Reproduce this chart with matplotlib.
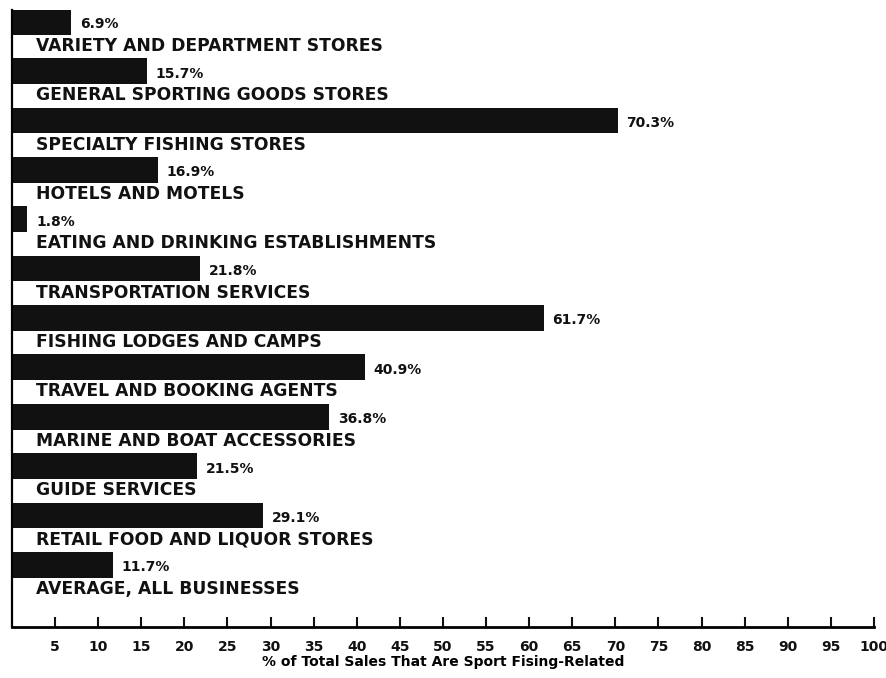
import matplotlib
matplotlib.use("Agg")
import matplotlib.pyplot as plt
import numpy as np

# data (top to bottom)
categories = [
    "VARIETY AND DEPARTMENT STORES",
    "GENERAL SPORTING GOODS STORES",
    "SPECIALTY FISHING STORES",
    "HOTELS AND MOTELS",
    "EATING AND DRINKING ESTABLISHMENTS",
    "TRANSPORTATION SERVICES",
    "FISHING LODGES AND CAMPS",
    "TRAVEL AND BOOKING AGENTS",
    "MARINE AND BOAT ACCESSORIES",
    "GUIDE SERVICES",
    "RETAIL FOOD AND LIQUOR STORES",
    "AVERAGE, ALL BUSINESSES",
]
values = [6.9, 15.7, 70.3, 16.9, 1.8, 21.8, 61.7, 40.9, 36.8, 21.5, 29.1, 11.7]
tick_values = list(range(5, 101, 5))
x_label = "% of Total Sales That Are Sport Fising-Related"

plt.rcParams['font.family'] = ['DejaVu Sans']

fig = plt.figure(figsize=(8.87, 6.78), dpi=100)
ax = fig.add_axes([0.0135, 0.0752, 0.9718, 0.9098])

y = np.arange(len(values))
ax.barh(y, values, height=0.52, color='#111111', align='center')

for i, (cat, v) in enumerate(zip(categories, values)):
    ax.text(v + 1.0, i + 0.05, f"{v}%", ha='left', va='center',
            fontsize=10, fontweight='bold', color='#111111')
    ax.text(2.8, i + 0.49, cat, ha='left', va='center',
            fontsize=12.3, fontweight='bold', color='#111111')

ax.set_xlim(0, 100)
ax.set_ylim(12.26, -0.233)

ax.set_xticks(tick_values)
ax.set_xticklabels([str(t) for t in tick_values], fontsize=10, fontweight='bold')
ax.tick_params(axis='x', direction='in', length=7, width=1.5, pad=9, colors='#111111')
ax.set_yticks([])

for side in ['top', 'right']:
    ax.spines[side].set_visible(False)
ax.spines['left'].set_linewidth(1.6)
ax.spines['bottom'].set_linewidth(2.0)

ax.set_xlabel(x_label, fontsize=10, fontweight='bold', labelpad=1)

fig.savefig("out.png", dpi=100, facecolor='white')
